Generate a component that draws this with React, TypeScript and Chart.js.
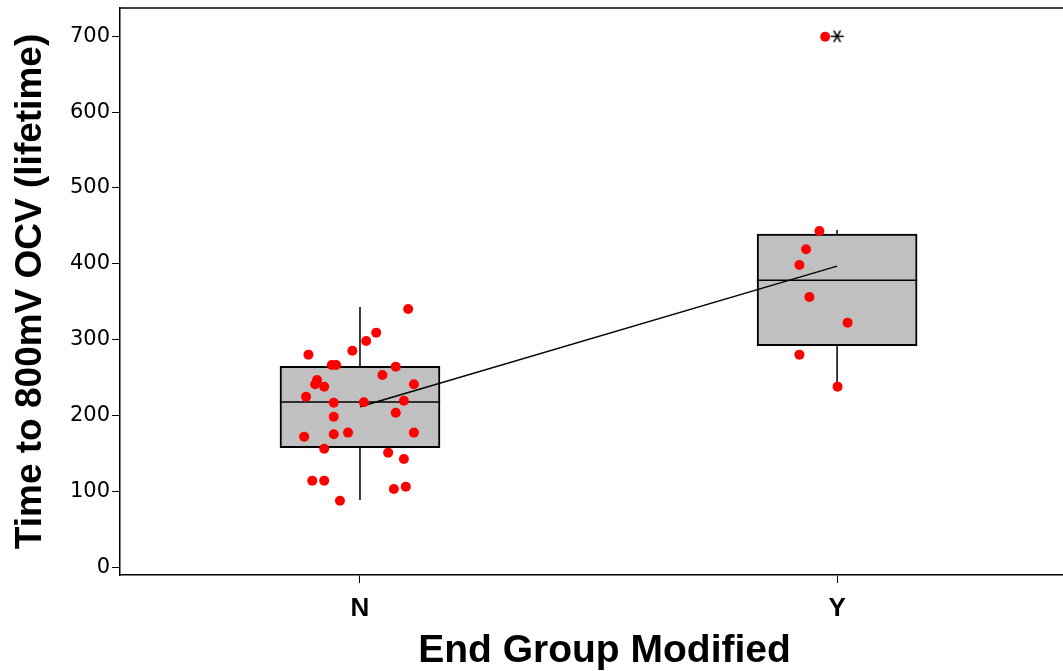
import React, { useEffect, useRef } from 'react';
import { Chart, registerables } from 'chart.js';

Chart.register(...registerables);

const categories = ['N', 'Y'];
const yTickValues = [0, 100, 200, 300, 400, 500, 600, 700];

// Individual observations, group N
const nLifetimes = [340.5, 309.3, 298.3, 285.5, 280.3, 266.7, 266.7, 264.5, 253.5, 246.9, 241.2, 238.1, 241.2, 224.9, 217.0, 217.5, 219.6, 203.8, 198.5, 177.5, 177.5, 175.3, 172.2, 156.3, 151.1, 142.8, 114.2, 114.2, 103.2, 106.3, 87.8];
const nJitter = [0.101, 0.034, 0.013, -0.016, -0.108, -0.059, -0.05, 0.075, 0.047, -0.09, -0.094, -0.075, 0.113, -0.113, -0.055, 0.008, 0.092, 0.075, -0.055, 0.113, -0.025, -0.055, -0.117, -0.075, 0.059, 0.092, -0.1, -0.075, 0.071, 0.096, -0.042];

// Individual observations, group Y
const yLifetimes = [443.3, 419.2, 398.5, 356.3, 322.5, 280.3, 238.1, 699.4];
const yJitter = [-0.037, -0.065, -0.079, -0.058, 0.022, -0.079, 0.001, -0.025];

// Box plot statistics per category
const q1 = [157.7, 292.0];
const medians = [218.0, 378.3];
const q3 = [265.0, 439.4];
const whiskerLow = [88.7, 238.0];
const whiskerHigh = [343.0, 444.6];
const means = [211.7, 397.0];
const outlierCategory = [1];
const outlierValues = [700];

const BOX_HALF = 0.168;

function makeAsterisk(): HTMLCanvasElement {
  const size = 15;
  const c = document.createElement('canvas');
  c.width = size;
  c.height = size;
  const g = c.getContext('2d');
  if (g) {
    g.strokeStyle = '#000';
    g.lineWidth = 1.6;
    g.lineCap = 'round';
    const r = 6;
    const cx = size / 2;
    const cy = size / 2;
    [0, 60, 120].forEach((deg) => {
      const a = (deg * Math.PI) / 180;
      g.beginPath();
      g.moveTo(cx - r * Math.cos(a), cy - r * Math.sin(a));
      g.lineTo(cx + r * Math.cos(a), cy + r * Math.sin(a));
      g.stroke();
    });
  }
  return c;
}

export default function App() {
  const canvasRef = useRef<HTMLCanvasElement | null>(null);

  useEffect(() => {
    const canvas = canvasRef.current;
    if (!canvas) return;

    const points = [
      ...nLifetimes.map((v, i) => ({ x: 0 + nJitter[i], y: v })),
      ...yLifetimes.map((v, i) => ({ x: 1 + yJitter[i], y: v })),
    ];

    const medianData: any[] = [];
    const whiskerData: any[] = [];
    categories.forEach((_, i) => {
      medianData.push({ x: i - BOX_HALF, y: medians[i] }, { x: i + BOX_HALF, y: medians[i] }, { x: i + 0.5, y: null });
      whiskerData.push({ x: i, y: q3[i] }, { x: i, y: whiskerHigh[i] }, { x: i + 0.3, y: null });
      whiskerData.push({ x: i, y: q1[i] }, { x: i, y: whiskerLow[i] }, { x: i + 0.4, y: null });
    });

    const topBorder = {
      id: 'topBorder',
      afterDraw(chart: any) {
        const { ctx, chartArea } = chart;
        ctx.save();
        ctx.strokeStyle = '#000';
        ctx.lineWidth = 1.5;
        ctx.beginPath();
        ctx.moveTo(chartArea.left, chartArea.top);
        ctx.lineTo(chartArea.right, chartArea.top);
        ctx.stroke();
        ctx.restore();
      },
    };

    const chart = new Chart(canvas, {
      type: 'bar',
      data: {
        datasets: [
          {
            type: 'scatter',
            data: points,
            backgroundColor: '#ff0000',
            borderColor: '#ff0000',
            pointRadius: 5,
            pointBorderWidth: 0,
            order: 0,
          } as any,
          {
            type: 'scatter',
            data: outlierCategory.map((c, i) => ({ x: c, y: outlierValues[i] })),
            pointStyle: makeAsterisk(),
            pointRadius: 7,
            borderColor: '#000',
            backgroundColor: '#000',
            order: 1,
          } as any,
          {
            type: 'line',
            data: categories.map((_, i) => ({ x: i, y: means[i] })),
            borderColor: '#000',
            borderWidth: 1.5,
            pointRadius: 0,
            fill: false,
            order: 2,
          } as any,
          {
            type: 'line',
            data: medianData,
            borderColor: '#000',
            borderWidth: 1.5,
            pointRadius: 0,
            spanGaps: false,
            fill: false,
            order: 3,
          } as any,
          {
            type: 'line',
            data: whiskerData,
            borderColor: '#000',
            borderWidth: 1.5,
            pointRadius: 0,
            spanGaps: false,
            fill: false,
            order: 4,
          } as any,
          {
            type: 'bar',
            data: categories.map((_, i) => ({ x: i, y: [q1[i], q3[i]] })),
            backgroundColor: '#c0c0c0',
            borderColor: '#000',
            borderWidth: 2,
            borderSkipped: false,
            barThickness: 160,
            grouped: false,
            order: 5,
          } as any,
        ],
      },
      options: {
        responsive: false,
        animation: false,
        devicePixelRatio: 1,
        events: [],
        layout: { padding: { top: 8, left: 0, right: 0, bottom: 0 } },
        plugins: {
          legend: { display: false },
          tooltip: { enabled: false },
          title: { display: false },
        },
        scales: {
          x: {
            type: 'linear',
            offset: false,
            min: -0.503,
            max: 1.528,
            afterBuildTicks: (scale: any) => {
              scale.ticks = categories.map((_, i) => ({ value: i }));
            },
            afterFit: (scale: any) => {
              scale.height = 96;
              scale.paddingLeft = 0;
              scale.paddingRight = 0;
            },
            ticks: {
              callback: (v: any) => categories[Math.round(Number(v))] ?? '',
              color: '#000',
              padding: 10,
              maxRotation: 0,
              autoSkip: false,
              font: { family: '"Liberation Sans", Arial, sans-serif', size: 26, weight: 'bold' },
            },
            grid: {
              display: true,
              offset: false,
              drawOnChartArea: false,
              drawTicks: true,
              tickLength: 8,
              tickColor: '#000',
              tickWidth: 1,
            },
            border: { display: true, color: '#000', width: 1.5 },
            title: {
              display: true,
              text: 'End Group Modified',
              color: '#000',
              padding: { top: 0, bottom: 0 },
              font: { family: '"Liberation Sans", Arial, sans-serif', size: 39, weight: 'bold', lineHeight: 1 },
            },
          },
          y: {
            type: 'linear',
            min: -10.2,
            max: 737.3,
            afterBuildTicks: (scale: any) => {
              scale.ticks = yTickValues.map((v) => ({ value: v }));
            },
            afterFit: (scale: any) => {
              scale.width = 120;
              scale.paddingTop = 0;
              scale.paddingBottom = 0;
            },
            ticks: {
              color: '#000',
              padding: 2,
              font: { family: '"DejaVu Sans", Verdana, sans-serif', size: 21 },
            },
            grid: {
              display: true,
              drawOnChartArea: false,
              drawTicks: true,
              tickLength: 8,
              tickColor: '#000',
              tickWidth: 1,
            },
            border: { display: true, color: '#000', width: 1.5 },
            title: {
              display: true,
              text: 'Time to 800mV OCV (lifetime)',
              color: '#000',
              padding: { top: 12.5, bottom: 0 },
              font: { family: '"Liberation Sans", Arial, sans-serif', size: 37, weight: 'bold', lineHeight: 1 },
            },
          },
        },
      } as any,
      plugins: [topBorder],
    });

    return () => chart.destroy();
  }, []);

  return (
    <div style={{ position: 'absolute', left: 0, top: 0, width: 1063, height: 671, overflow: 'hidden', background: '#fff' }}>
      <canvas ref={canvasRef} width={1097} height={671} style={{ display: 'block', width: 1097, height: 671 }} />
    </div>
  );
}
